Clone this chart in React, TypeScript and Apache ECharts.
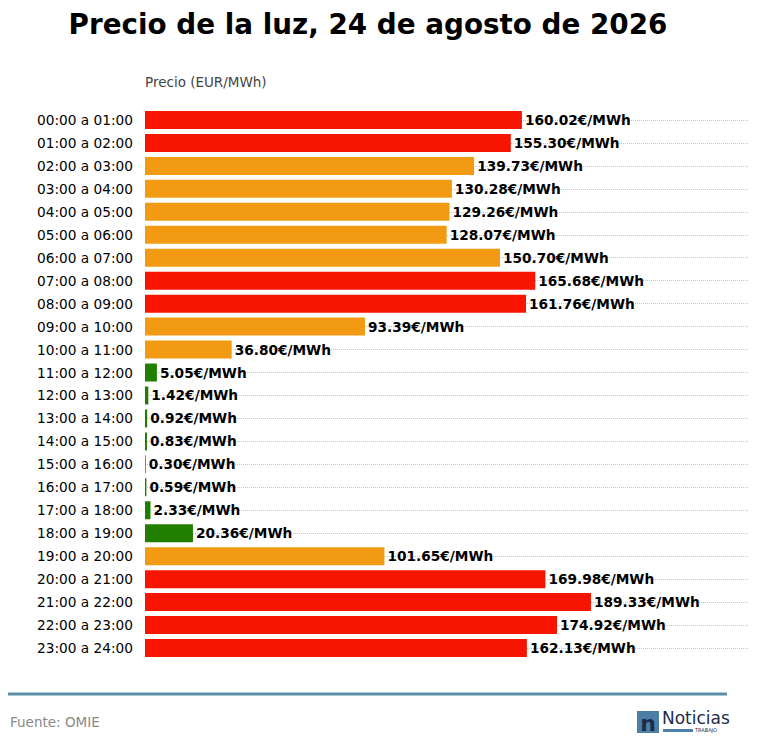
import React, { useEffect, useRef } from "react";
import * as echarts from "echarts";

const hours = ["00:00 a 01:00","01:00 a 02:00","02:00 a 03:00","03:00 a 04:00","04:00 a 05:00","05:00 a 06:00","06:00 a 07:00","07:00 a 08:00","08:00 a 09:00","09:00 a 10:00","10:00 a 11:00","11:00 a 12:00","12:00 a 13:00","13:00 a 14:00","14:00 a 15:00","15:00 a 16:00","16:00 a 17:00","17:00 a 18:00","18:00 a 19:00","19:00 a 20:00","20:00 a 21:00","21:00 a 22:00","22:00 a 23:00","23:00 a 24:00"];
const prices = [160.02,155.30,139.73,130.28,129.26,128.07,150.70,165.68,161.76,93.39,36.80,5.05,1.42,0.92,0.83,0.30,0.59,2.33,20.36,101.65,169.98,189.33,174.92,162.13];
const levels = ["red","red","orange","orange","orange","orange","orange","red","red","orange","orange","green","green","green","green","green","green","green","green","orange","red","red","red","red"];
const levelColors: Record<string,string> = { red: "#f71500", orange: "#f29a12", green: "#217f00" };

const F = "DejaVu Sans";

export default function App() {
  const ref = useRef<HTMLDivElement>(null);
  useEffect(() => {
    const chart = echarts.init(ref.current!, null, { renderer: "svg" });
    chart.setOption({
      animation: false,
      textStyle: { fontFamily: F },
      title: { text: "Precio de la luz, 24 de agosto de 2026", left: 363, top: 5, textAlign: "center",
        textStyle: { fontFamily: F, fontSize: 27.8, fontWeight: "bold", color: "#000" } },
      grid: { left: 145, right: 10, top: 120, bottom: 107, containLabel: false },
      xAxis: { type: "value", min: 0, max: 256, show: false },
      yAxis: {
        type: "category", data: hours, inverse: true, boundaryGap: false,
        axisLine: { show: false }, axisTick: { show: false },
        axisLabel: { color: "#000", fontSize: 13.7, fontFamily: F, margin: 12 },
        splitLine: { show: true, lineStyle: { type: "dotted", color: "#c4c4c4", width: 1 } },
      },
      series: [{
        type: "bar", barWidth: 18,
        data: prices.map((v, i) => ({ value: v, itemStyle: { color: levelColors[levels[i]] } })),
        label: { show: true, position: "right", distance: 3, color: "#000", fontWeight: "bold", fontSize: 13.7, fontFamily: F,
          formatter: (p: any) => p.value.toFixed(2) + "€/MWh" },
      }],
      graphic: [
        { type: "text", left: 145, top: 75, style: { text: "Precio (EUR/MWh)", fill: "#444", fontSize: 13.5, fontFamily: F } },
        { type: "line", shape: { x1: 8, y1: 694, x2: 727, y2: 694 }, style: { stroke: "#5b8fa8", lineWidth: 3 } },
        { type: "text", left: 10, top: 715, style: { text: "Fuente: OMIE", fill: "#888", fontSize: 13.5, fontFamily: F } },
        { type: "rect", shape: { x: 637, y: 711, width: 22, height: 22 }, style: { fill: "#4d7ea6" } },
        { type: "text", x: 648, y: 723, style: { text: "n", fill: "#1a2e4a", fontSize: 22, fontWeight: "bold", fontFamily: F, align: "center", verticalAlign: "middle" } },
        { type: "text", x: 662, y: 709, style: { text: "Noticias", fill: "#1a2e4a", fontSize: 17, fontFamily: F } },
        { type: "rect", shape: { x: 663, y: 729, width: 30, height: 3 }, style: { fill: "#4d7ea6" } },
        { type: "text", x: 695, y: 727, style: { text: "TRABAJO", fill: "#1a2e4a", fontSize: 5, fontFamily: F } },
      ],
    });
    return () => chart.dispose();
  }, []);
  return <div ref={ref} style={{ position: "absolute", left: 0, top: 0, width: 758, height: 755 }} />;
}
